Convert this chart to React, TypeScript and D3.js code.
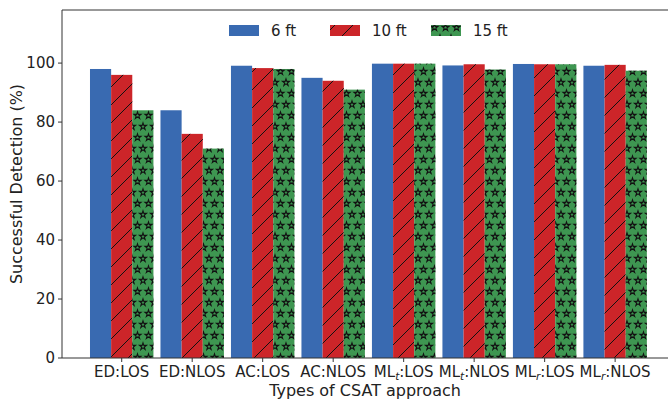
import { scaleLinear, symbol, symbolStar } from "d3";

const categories = ["ED:LOS", "ED:NLOS", "AC:LOS", "AC:NLOS", "ML_t:LOS", "ML_t:NLOS", "ML_r:LOS", "ML_r:NLOS"];
const seriesNames = ["6 ft", "10 ft", "15 ft"];
const ft6 = [98, 84, 99.1, 95, 99.8, 99.2, 99.7, 99.1];
const ft10 = [96, 76, 98.3, 94, 99.8, 99.6, 99.6, 99.4];
const ft15 = [84, 71, 98, 91, 99.8, 97.8, 99.6, 97.4];
const yTicks = [0, 20, 40, 60, 80, 100];

const series = [ft6, ft10, ft15];
const fills = ["#396ab1", "#cc2529", "#3e9651"];
const patterns = [null, "url(#hatch)", "url(#stars)"];

const W = 668;
const H = 402;
const margin = { top: 10, right: 0, bottom: 44, left: 62 };
const font = "'DejaVu Sans', sans-serif";

function TickLabel({ label, x, y }: { label: string; x: number; y: number }) {
  if (label.startsWith("ML_")) {
    const sub = label[3];
    const rest = label.slice(4);
    return (
      <text x={x} y={y} textAnchor="middle" fontSize={15} fill="#222">
        ML
        <tspan fontSize={10.5} fontStyle="italic" dy={3}>{sub}</tspan>
        <tspan dy={-3}>{rest}</tspan>
      </text>
    );
  }
  return (
    <text x={x} y={y} textAnchor="middle" fontSize={15} fill="#222">
      {label}
    </text>
  );
}

export default function App() {
  const innerBottom = H - margin.bottom;
  const x = scaleLinear().domain([-0.847, 7.75]).range([margin.left, W - margin.right]);
  const y = scaleLinear().domain([0, 118]).range([innerBottom, margin.top]);
  const barW = 0.3;
  const px = x(barW) - x(0);
  const starPath = symbol(symbolStar, 15)() ?? "";
  // star centres inside one pattern tile (edge copies keep the tiling seamless)
  const starSpots = [
    [5.5, 5.5],
    [0, 16.5],
    [11, 16.5],
  ];

  return (
    <svg
      width={W}
      height={H}
      style={{ position: "absolute", left: 0, top: 0, background: "#fff" }}
      fontFamily={font}
    >
      <defs>
        <pattern id="hatch" patternUnits="userSpaceOnUse" width={18} height={18}>
          <path d="M0,18 L18,0 M-2,2 L2,-2 M16,20 L20,16" stroke="#111" strokeWidth={1} />
        </pattern>
        <pattern id="stars" patternUnits="userSpaceOnUse" width={11} height={22}>
          {starSpots.map(([sx, sy], k) => (
            <path
              key={k}
              d={starPath}
              transform={`translate(${sx},${sy})`}
              fill="none"
              stroke="#111"
              strokeWidth={1.1}
            />
          ))}
        </pattern>
      </defs>

      {series.map((vals, si) => (
        <g key={si}>
          {vals.map((v, ci) => {
            const bx = x(ci + (si - 1) * barW) - px / 2;
            return (
              <g key={ci}>
                <rect x={bx} y={y(v)} width={px} height={innerBottom - y(v)} fill={fills[si]} />
                {patterns[si] && (
                  <rect x={bx} y={y(v)} width={px} height={innerBottom - y(v)} fill={patterns[si]!} />
                )}
              </g>
            );
          })}
        </g>
      ))}

      {/* frame */}
      <line x1={margin.left} x2={W} y1={margin.top} y2={margin.top} stroke="#333" />
      <line x1={margin.left} x2={W} y1={innerBottom} y2={innerBottom} stroke="#333" />
      <line x1={margin.left} x2={margin.left} y1={margin.top} y2={innerBottom} stroke="#333" />

      {/* y axis */}
      {yTicks.map((t) => (
        <g key={t}>
          <line x1={margin.left - 4} x2={margin.left} y1={y(t)} y2={y(t)} stroke="#333" />
          <text x={margin.left - 7} y={y(t)} dy="0.36em" textAnchor="end" fontSize={15} fill="#222">
            {t}
          </text>
        </g>
      ))}
      <text
        transform={`translate(22,${(margin.top + innerBottom) / 2}) rotate(-90)`}
        textAnchor="middle"
        fontSize={16}
        fill="#222"
      >
        Successful Detection (%)
      </text>

      {/* x axis */}
      {categories.map((c, i) => (
        <g key={c}>
          <line x1={x(i)} x2={x(i)} y1={innerBottom} y2={innerBottom + 4} stroke="#333" />
          <TickLabel label={c} x={x(i)} y={innerBottom + 19} />
        </g>
      ))}
      <text x={(margin.left + W) / 2} y={H - 6} textAnchor="middle" fontSize={16} fill="#222">
        Types of CSAT approach
      </text>

      {/* legend */}
      {seriesNames.map((n, i) => {
        const lx = 229 + i * 101;
        return (
          <g key={n}>
            <rect x={lx} y={25} width={30} height={11} fill={fills[i]} />
            {patterns[i] && <rect x={lx} y={25} width={30} height={11} fill={patterns[i]!} />}
            <text x={lx + 42} y={36} fontSize={15} fill="#222">
              {n}
            </text>
          </g>
        );
      })}
    </svg>
  );
}
